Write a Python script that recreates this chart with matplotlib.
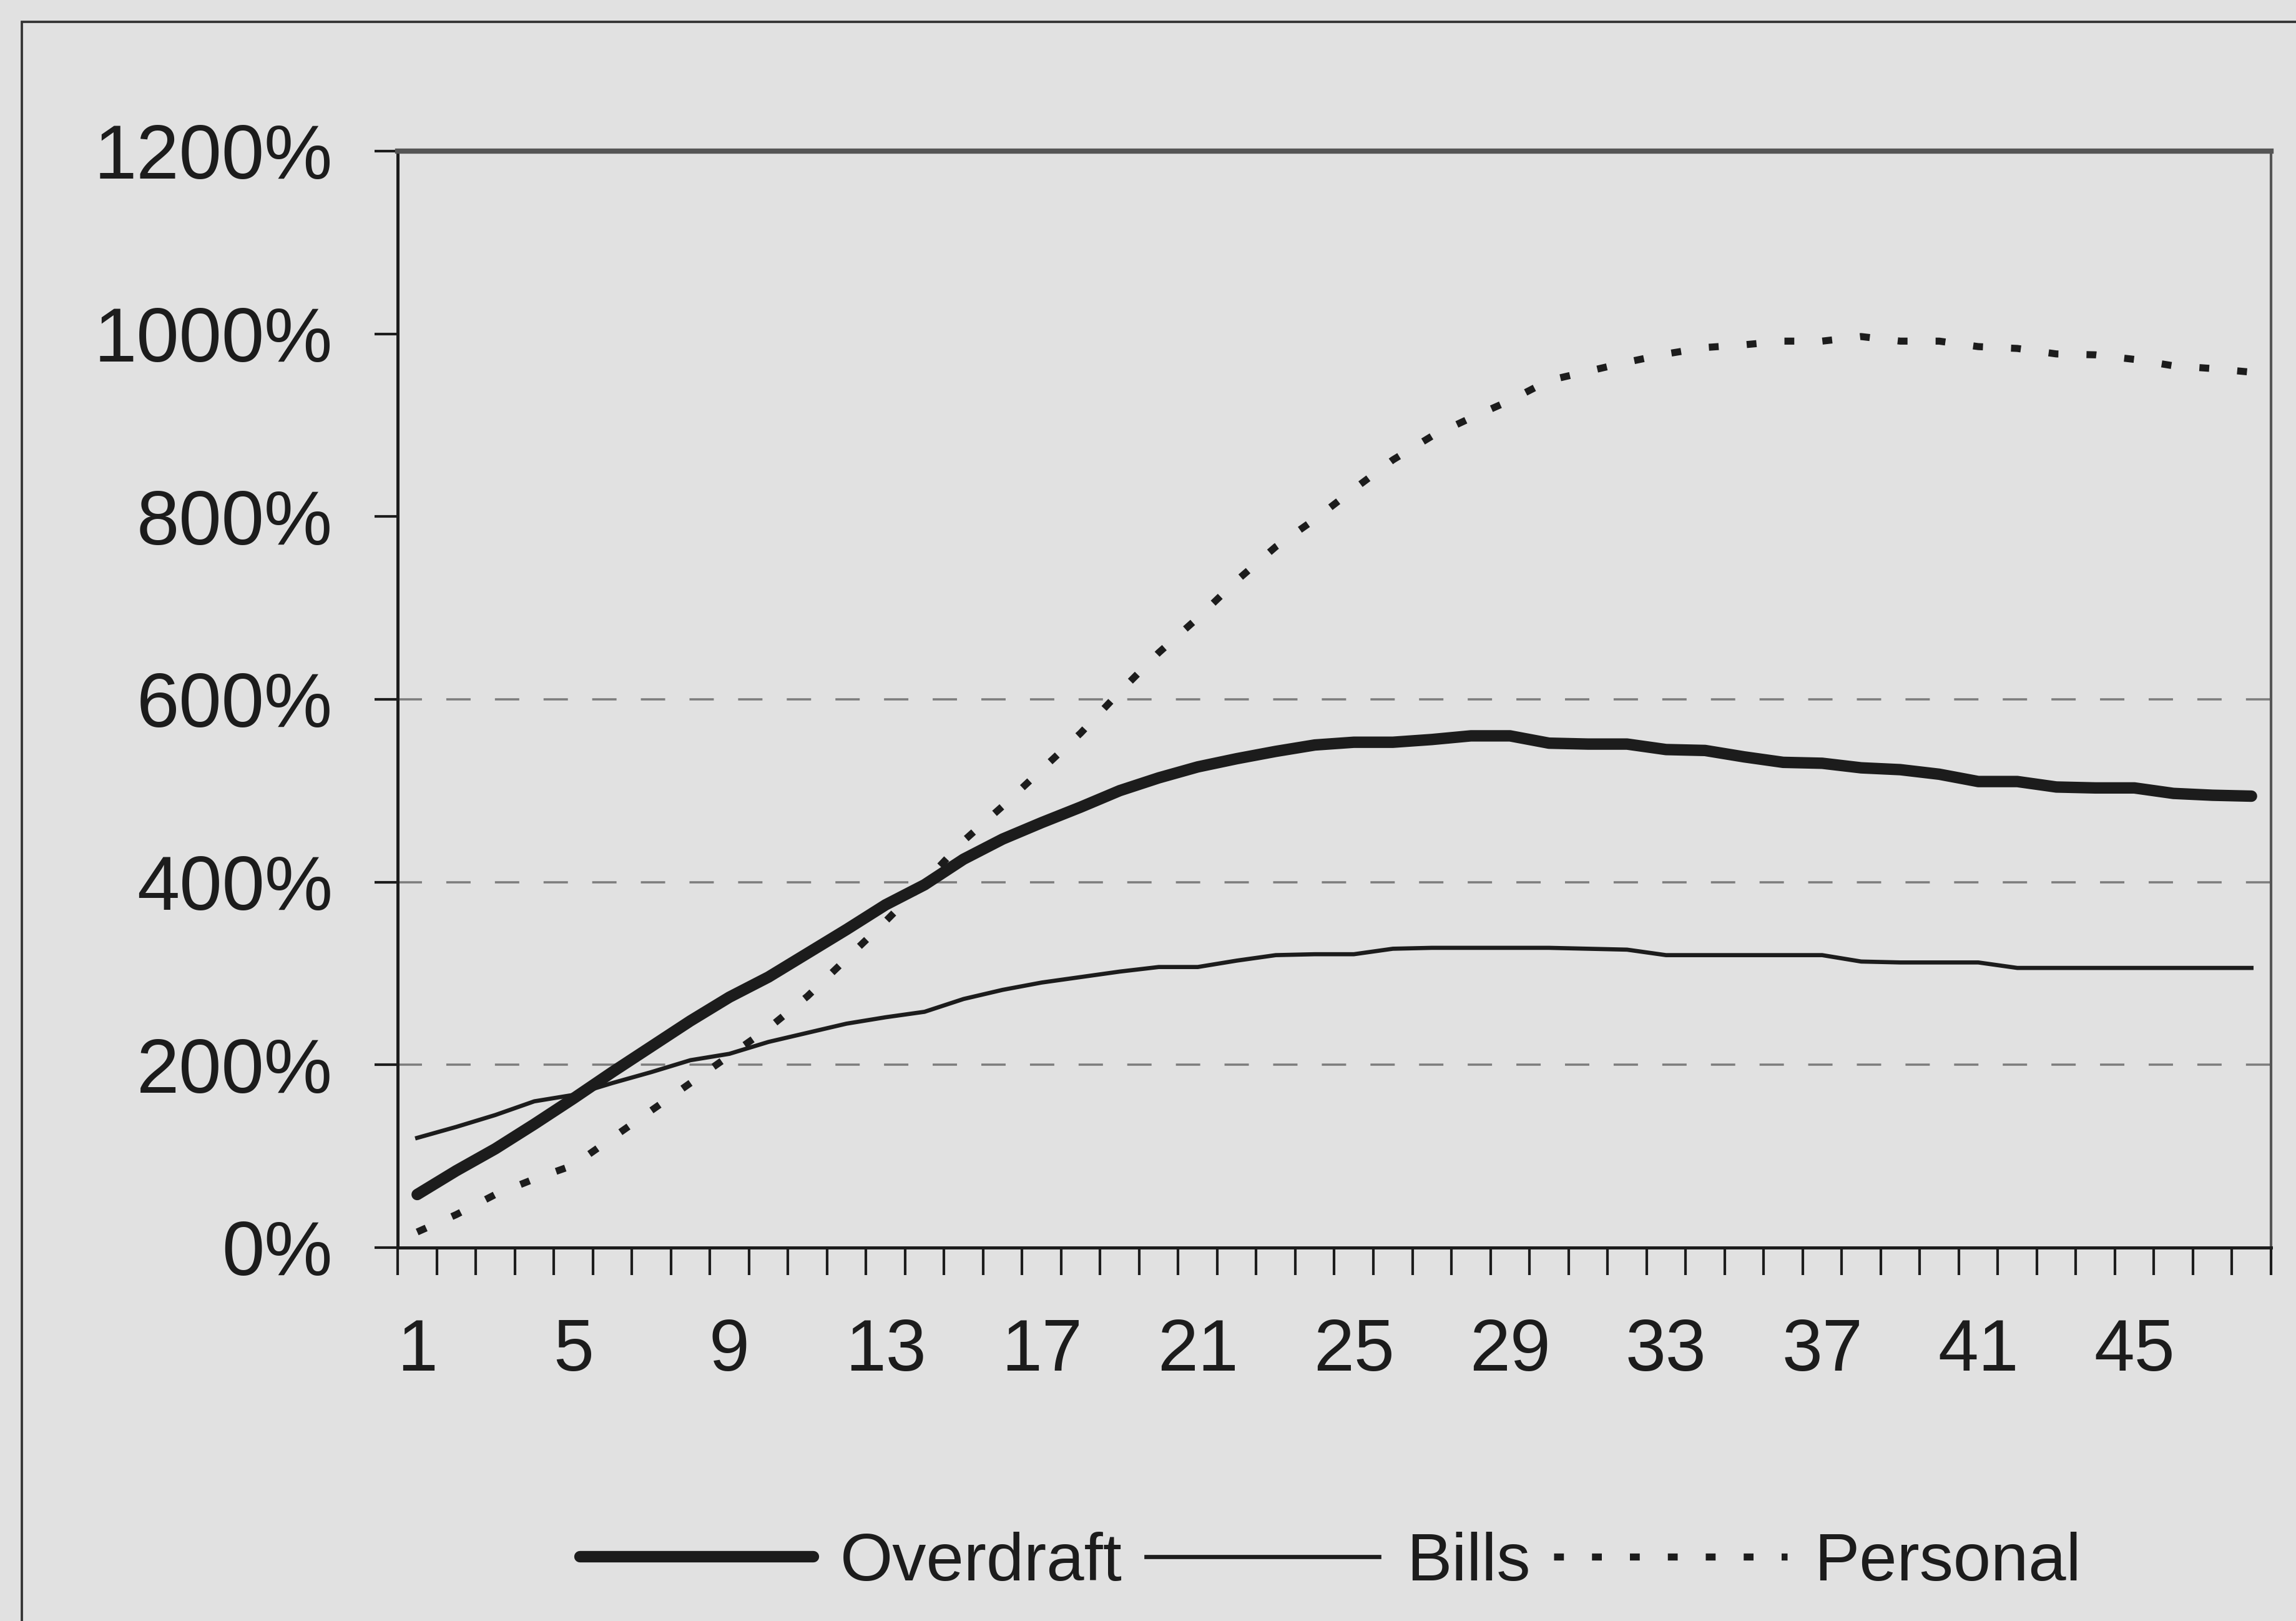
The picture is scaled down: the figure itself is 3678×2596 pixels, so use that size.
import numpy as np
import matplotlib.pyplot as plt
from matplotlib.patches import Rectangle

plt.rcParams['font.family'] = ['Liberation Sans', 'DejaVu Sans']

# --- data (values in %) ---
periods = np.arange(1, 49)
overdraft = [58, 84, 108, 135, 163, 192, 220, 248, 274, 296, 322, 348,
             375, 397, 425, 447, 465, 482, 500, 514, 526, 535, 543, 550,
             553, 553, 556, 560, 560, 552, 551, 551, 545, 544, 537, 531,
             530, 525, 523, 518, 510, 510, 504, 503, 503, 497, 495, 494]
bills = [120, 132, 145, 160, 167, 180, 192, 205, 212, 225, 235, 245,
         252, 258, 272, 282, 290, 296, 302, 307, 307, 314, 320, 321,
         321, 327, 328, 328, 328, 328, 327, 326, 320, 320, 320, 320,
         320, 313, 312, 312, 312, 306, 306, 306, 306, 306, 306, 306]
personal = [17, 36, 58, 75, 90, 120, 150, 180, 210, 240, 275, 316,
            357, 400, 445, 483, 523, 563, 608, 651, 689, 730, 767, 797,
            830, 862, 888, 908, 927, 949, 959, 969, 978, 985, 988, 992,
            992, 997, 992, 992, 986, 984, 978, 977, 972, 965, 962, 958]
labeled_periods = periods[::4]
y_ticks = [0, 200, 400, 600, 800, 1000, 1200]
grid_levels = [200, 400, 600]

bg = '#e1e1e1'
ink = '#1c1c1c'

fig = plt.figure(figsize=(3678 / 300, 2596 / 300), dpi=300, facecolor=bg)
ax = fig.add_axes([0.1732, 0.2304, 0.8159, 0.6764])
ax.set_facecolor(bg)

# dashed grid only at the lower levels
for lvl in grid_levels:
    ax.axhline(lvl, color='#7c7c7c', lw=0.85, dashes=(11, 11), zorder=1)

ax.plot(periods, overdraft, color=ink, lw=4.4, solid_capstyle='round',
        solid_joinstyle='round', label='Overdraft', zorder=3)
ax.plot(periods, bills, color=ink, lw=1.6, label='Bills', zorder=3)
ax.plot(periods, personal, color=ink, lw=2.7, dashes=(1.4, 4.0),
        label='Personal', zorder=3)

ax.set_xlim(periods[0] - 0.5, periods[-1] + 0.5)
ax.set_ylim(y_ticks[0], y_ticks[-1])

# category axis: ticks between categories, labels every 4th
ax.set_xticks(np.append(periods - 0.5, periods[-1] + 0.5))
ax.set_xticklabels([])
ax.set_xticks(labeled_periods, minor=True)
ax.set_xticklabels([str(p) for p in labeled_periods], minor=True)
ax.tick_params(axis='x', which='major', direction='out', length=10.5,
               width=1.0, color=ink)
ax.tick_params(axis='x', which='minor', length=0, pad=27, labelsize=28,
               labelcolor=ink)

ax.set_yticks(y_ticks)
ax.set_yticklabels([f'{v}%' for v in y_ticks])
ax.tick_params(axis='y', direction='out', length=9, width=1.0, color=ink,
               pad=16, labelsize=29.5, labelcolor=ink)

for side in ['left', 'bottom']:
    ax.spines[side].set_color(ink)
    ax.spines[side].set_linewidth(1.2)
ax.spines['top'].set_color('#555555')
ax.spines['top'].set_linewidth(2.0)
ax.spines['right'].set_color('#555555')
ax.spines['right'].set_linewidth(1.0)

ax.legend(loc='center', bbox_to_anchor=(0.5795, 0.036),
          bbox_transform=fig.transFigure, ncol=3, frameon=False,
          fontsize=26, handlelength=3.45, handletextpad=0.4,
          columnspacing=0.35, labelcolor=ink)

# outer chart frame (right/bottom edges run off the scan)
fig.patches.append(Rectangle((0.0094, -0.5), 2, 1.4865,
                             transform=fig.transFigure, fill=False,
                             edgecolor='#333333', lw=0.9))

fig.savefig('out.png', dpi=300, facecolor=bg)
